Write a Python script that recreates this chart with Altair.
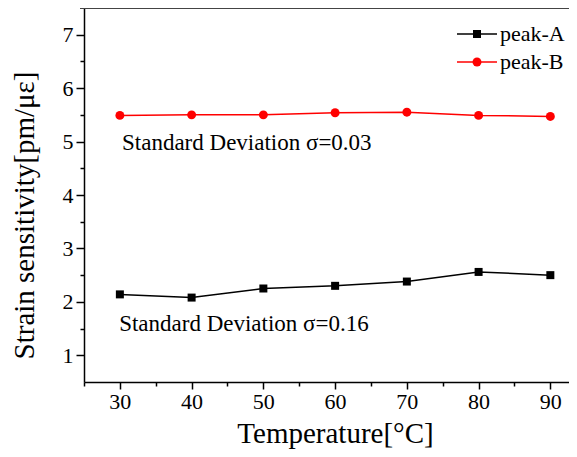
import altair as alt
import pandas as pd

temps = [30, 40, 50, 60, 70, 80, 90]
peak_a = [2.14, 2.08, 2.25, 2.30, 2.38, 2.56, 2.50]
peak_b = [5.49, 5.50, 5.50, 5.54, 5.55, 5.49, 5.47]
series_names = ["peak-A", "peak-B"]
series_colors = ["#000000", "#FF0000"]
series_shapes = ["square", "circle"]
series_sizes = [64, 80]
x_major = [30, 40, 50, 60, 70, 80, 90]
x_minor = [25, 35, 45, 55, 65, 75, 85]
y_major = [1, 2, 3, 4, 5, 6, 7]
y_minor = [1.5, 2.5, 3.5, 4.5, 5.5, 6.5]
notes = ["Standard Deviation σ=0.03", "Standard Deviation σ=0.16"]
note_x = [30.3, 29.9]
note_y = [4.97, 1.58]

FONT = "Liberation Serif"

df = pd.DataFrame({
    "T": temps * 2,
    "S": peak_a + peak_b,
    "series": [series_names[0]] * len(temps) + [series_names[1]] * len(temps),
})
notes_df = pd.DataFrame({"x": note_x, "y": note_y, "label": notes})
legend_df = pd.DataFrame({"series": series_names})

xs = alt.Scale(domain=[25, 92.6], nice=False, zero=False)
ys = alt.Scale(domain=[0.5, 7.5], nice=False, zero=False)

common = dict(labelFont=FONT, labelFontSize=22, labelColor="black", labelFlush=False,
              labelOverlap=False, domainColor="black", domainWidth=1.5,
              tickColor="black", tickWidth=1.5, grid=False,
              titleFontSize=29, titleFont=FONT, titleFontWeight="normal", titleColor="black")

x_axis_major = alt.Axis(values=x_major, tickSize=7, labelPadding=2, title="Temperature[°C]",
                        titleX=251, titleY=60, titleBaseline="alphabetic", titleAlign="center",
                        **common)
y_axis_major = alt.Axis(values=y_major, tickSize=8, labelPadding=3, title="Strain sensitivity[pm/με]",
                        titleX=-60, titleY=207, titleAngle=270, titleBaseline="middle",
                        titleAlign="center", **common)
x_axis_minor = alt.Axis(values=x_minor, tickSize=4, labels=False, domain=False, title=None,
                        orient="bottom", tickColor="black", tickWidth=1.5, grid=False)
y_axis_minor = alt.Axis(values=y_minor, tickSize=4, labels=False, domain=False, title=None,
                        orient="left", tickColor="black", tickWidth=1.5, grid=False)

color_scale = alt.Scale(domain=series_names, range=series_colors)

lines = alt.Chart(df).mark_line(strokeWidth=1.5).encode(
    x=alt.X("T:Q", scale=xs, axis=x_axis_major),
    y=alt.Y("S:Q", scale=ys, axis=y_axis_major),
    color=alt.Color("series:N", scale=color_scale, legend=None),
    detail="series:N",
)

minor = alt.Chart(df).mark_point(opacity=0).encode(
    x=alt.X("T:Q", scale=xs, axis=x_axis_minor),
    y=alt.Y("S:Q", scale=ys, axis=y_axis_minor),
)

shape_scale = alt.Scale(domain=series_names, range=series_shapes)
size_scale = alt.Scale(domain=series_names, range=series_sizes)

pts = alt.Chart(df).mark_point(filled=True, opacity=1).encode(
    x=alt.X("T:Q", scale=xs, axis=None),
    y=alt.Y("S:Q", scale=ys, axis=None),
    color=alt.Color("series:N", scale=color_scale, legend=None),
    shape=alt.Shape("series:N", scale=shape_scale, legend=None),
    size=alt.Size("series:N", scale=size_scale, legend=None),
)

texts = alt.Chart(notes_df).mark_text(
    font=FONT, fontSize=23, align="left", baseline="middle", color="black"
).encode(
    x=alt.X("x:Q", scale=xs, axis=None),
    y=alt.Y("y:Q", scale=ys, axis=None),
    text="label:N",
)

top_rule = alt.Chart(notes_df).mark_rule(color="#444444", strokeWidth=2).encode(
    x=alt.value(-4), x2=alt.value(485), y=alt.value(0)
)

# legend (top right, inside the plot), rows placed by a point scale
leg_y = alt.Y("series:N", scale=alt.Scale(type="point", domain=series_names, range=[26, 54], padding=0),
              axis=None)
leg_lines = alt.Chart(legend_df).mark_rule(strokeWidth=1.5).encode(
    x=alt.value(373), x2=alt.value(413), y=leg_y,
    color=alt.Color("series:N", scale=color_scale, legend=None),
)
leg_pts = alt.Chart(legend_df).mark_point(filled=True, opacity=1).encode(
    x=alt.value(393), y=leg_y,
    color=alt.Color("series:N", scale=color_scale, legend=None),
    shape=alt.Shape("series:N", scale=shape_scale, legend=None),
    size=alt.Size("series:N", scale=size_scale, legend=None),
)
leg_text = alt.Chart(legend_df).mark_text(
    font=FONT, fontSize=22, align="left", baseline="middle", color="black"
).encode(x=alt.value(416), y=leg_y, text="series:N")

chart = alt.layer(lines, minor, pts, texts, top_rule, leg_lines, leg_pts, leg_text).resolve_axis(
    x="independent", y="independent"
).resolve_scale(y="independent").properties(
    width=485, height=374,
    autosize=alt.AutoSizeParams(type="none"),
    padding={"left": 76, "top": 0, "right": 0, "bottom": 67},
).configure_view(stroke=None).configure_axis(labelFont=FONT)

chart.save("out.html", embed_options={"renderer": "svg", "actions": False})
